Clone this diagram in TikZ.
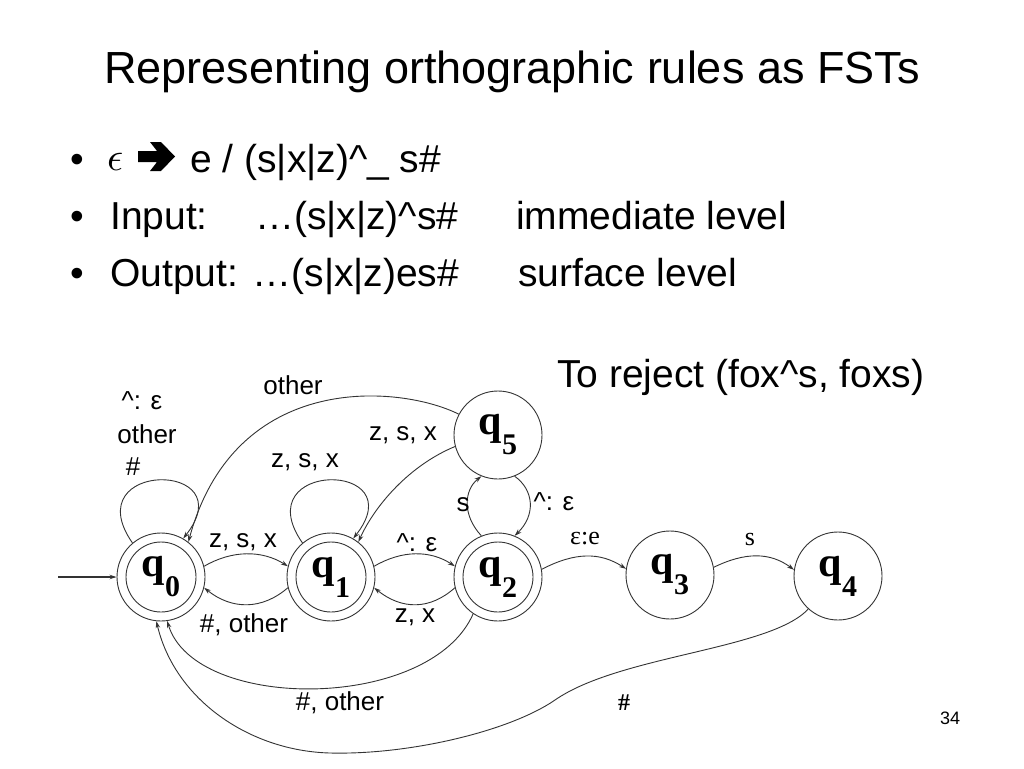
\documentclass[tikz,border=0pt]{standalone}
\usepackage{fontspec}
\setmainfont{Liberation Sans}
\newfontfamily\serifb[BoldFont={Liberation Serif Bold}]{Liberation Serif}
\usetikzlibrary{arrows.meta}
\newcommand{\qlab}[1]{{\serifb\bfseries\fontsize{42}{42}\selectfont q\raisebox{-20pt}{\fontsize{30}{30}\selectfont #1}}}
\begin{document}
\begin{tikzpicture}[x=1pt,y=-1pt,
  state/.style={circle,draw=black!80,line width=0.9pt,minimum size=88pt,inner sep=0pt},
  edge/.style={draw=black!80,line width=0.9pt,-{Stealth[length=7pt,width=4.5pt]}},
  lbl/.style={font=\fontsize{26}{26}\selectfont,inner sep=0pt},
  slbl/.style={font=\serifb\fontsize{26}{26}\selectfont,inner sep=0pt},
  body/.style={font=\fontsize{39}{39}\selectfont,anchor=base west,inner sep=0pt}]
\useasboundingbox (0,0) rectangle (1024,768);
% title and text
\node[font=\fontsize{45}{45}\selectfont,anchor=base,inner sep=0pt] (title) at (512,83) {Representing orthographic rules as FSTs};
\node[body] (b1) at (70,172) {•};
\node[body] (b2) at (70,229) {•};
\node[body] (b3) at (70,286) {•};
\node[anchor=base west,inner sep=0pt] (eps) at (107,170) {\scalebox{4}{$\epsilon$}};
% heavy arrow glyph of the rule
\fill[black] (138,151) -- (157,151) -- (150,142) -- (161,142) -- (175,156.5) -- (161,171) -- (150,171) -- (157,162) -- (138,162) -- cycle;
\node[body] (r1) at (190,172) {e / (s|x|z)\^{}\_ s\#};
\node[body] (r2a) at (110,229) {Input:};
\node[body] (r2b) at (255,229) {…(s|x|z)\^{}s\#};
\node[body] (r2c) at (516,229) {immediate level};
\node[body] (r3a) at (110,286) {Output: …(s|x|z)es\#};
\node[body] (r3c) at (518,286) {surface level};
\node[body] (rej) at (557,387) {To reject (fox\^{}s, foxs)};
\node[font=\fontsize{18}{18}\selectfont,inner sep=0pt] (pg) at (950,718) {34};
% states
\node[state] (q0) at (161,577) {\qlab{0}};
\node[state] (q1) at (331,577) {\qlab{1}};
\node[state] (q2) at (498,577) {\qlab{2}};
\node[state] (q5) at (498,435) {\qlab{5}};
\node[state] (q3) at (670,575) {\qlab{3}};
\node[state] (q4) at (838,576) {\qlab{4}};
\foreach \n in {q0,q1,q2}{\draw[draw=black!80,line width=0.9pt] (\n.center) circle[radius=35pt];}
% start
\coordinate (s) at (58,577);
\draw[edge,line width=1.3pt] (s) -- (q0);
% loops
\draw[edge] (q0.130) .. controls (75,460) and (245,460) .. (q0.60);
\draw[edge] (q1.130) .. controls (245,460) and (415,460) .. (q1.60);
% q0 <-> q1
\draw[edge] (q0.14) .. controls (232,550) and (262,550) .. (q1.166);
\draw[edge] (q1.194) .. controls (262,610) and (232,610) .. (q0.-14);
% q1 <-> q2
\draw[edge] (q1.14) .. controls (402,550) and (430,550) .. (q2.166);
\draw[edge] (q2.194) .. controls (430,610) and (402,610) .. (q1.-14);
% q5 -> q0, q5 -> q1
\draw[edge] (q5.152) .. controls (400,385) and (235,370) .. (q0.52);
\draw[edge] (q5.195) .. controls (410,465) and (375,505) .. (q1.52);
% q2 <-> q5
\draw[edge] (q2.112) .. controls (462,515) and (464,490) .. (q5.248);
\draw[edge] (q5.292) .. controls (534,490) and (536,515) .. (q2.68);
% q2 -> q3 -> q4
\draw[edge] (q2.10) .. controls (575,552) and (600,552) .. (q3.172);
\draw[edge] (q3.10) .. controls (745,552) and (770,552) .. (q4.172);
% back to q0
\draw[edge] (q2.-124) .. controls (430,712) and (195,712) .. (q0.-82);
\draw[edge] (q4.-132) .. controls (770,650) and (620,655) .. (555,700)
   .. controls (510,731) and (410,755) .. (330,753)
   .. controls (250,751) and (175,700) .. (q0.-96);
% labels
\node[lbl] (l1) at (142,401) {\^{}: ε};
\node[lbl] (l2) at (147,434) {other};
\node[lbl] (l3) at (133,467) {\#};
\node[lbl] (l4) at (293,385) {other};
\node[lbl] (l5) at (305,462) {z, s, x};
\node[lbl] (l6) at (403,435) {z, s, x};
\node[lbl] (l7) at (243,542) {z, s, x};
\node[lbl] (l8) at (417,543) {\^{}: ε};
\node[lbl] (l9) at (244,625) {\#, other};
\node[lbl] (l10) at (415,617) {z, x};
\node[lbl] (l11) at (463,505) {s};
\node[lbl] (l12) at (554,502) {\^{}: ε};
\node[slbl] (l13) at (585,539) {ε:e};
\node[slbl] (l14) at (750,539) {s};
\node[lbl] (l15) at (340,703) {\#, other};
\node[slbl,font=\serifb\bfseries\fontsize{24}{24}\selectfont] (l16) at (624,703) {\#};
\end{tikzpicture}
\end{document}
